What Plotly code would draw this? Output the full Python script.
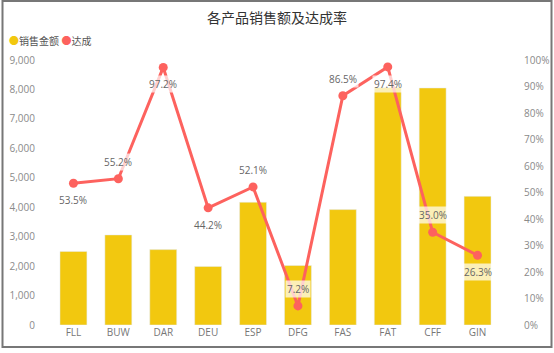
import plotly.graph_objects as go

categories = ["FLL", "BUW", "DAR", "DEU", "ESP", "DFG", "FAS", "FAT", "CFF", "GIN"]
sales = [2500, 3060, 2560, 1990, 4170, 2020, 3920, 8070, 8050, 4370]
rate = [0.535, 0.552, 0.972, 0.442, 0.521, 0.072, 0.865, 0.974, 0.350, 0.263]
label_side = ["below", "above", "below", "below", "above", "above", "above", "below", "above", "below"]

left_ticks = list(range(0, 9001, 1000))
right_ticks = [i / 10 for i in range(11)]

BAR = "#F2C80F"
LINE = "#FD625E"
FONT = "Open Sans, Noto Sans CJK SC, sans-serif"

W, H = 554, 353
L, R, T, B = 51, 54, 60, 28
pw, ph = W - L - R, H - T - B


def px_x(x):
    return (x - L) / pw


def px_y(y):
    return (H - B - y) / ph


fig = go.Figure()
fig.add_trace(go.Bar(x=categories, y=sales, name="销售金额", marker_color=BAR,
                     width=0.6, showlegend=False, yaxis="y"))
fig.add_trace(go.Scatter(x=categories, y=rate, name="达成", mode="lines+markers",
                         line=dict(color=LINE, width=3),
                         marker=dict(color=LINE, size=9),
                         showlegend=False, yaxis="y2"))

annotations = []
for c, v, s in zip(categories, rate, label_side):
    annotations.append(dict(
        x=c, y=v, xref="x", yref="y2", text=f"{v*100:.1f}%", showarrow=False,
        yshift=17 if s == "above" else -17,
        font=dict(family=FONT, size=10, color="#666666"),
        bgcolor="rgba(255,255,255,0.7)", borderpad=1,
    ))

annotations.append(dict(
    x=px_x(277), y=px_y(17), xref="paper", yref="paper", xanchor="center", yanchor="middle",
    text="各产品销售额及达成率", showarrow=False,
    font=dict(family=FONT, size=14, color="#333333"),
))
annotations.append(dict(
    x=px_x(7), y=px_y(41), xref="paper", yref="paper", xanchor="left", yanchor="middle",
    text=f"<span style='color:{BAR}'>●</span>销售金额 <span style='color:{LINE}'>●</span>达成",
    showarrow=False, font=dict(family=FONT, size=10, color="#555555"),
))

fig.update_layout(
    width=W, height=H,
    margin=dict(l=L, r=R, t=T, b=B, autoexpand=False),
    paper_bgcolor="white", plot_bgcolor="white",
    font=dict(family=FONT, size=10, color="#8a8a8a"),
    bargap=0.4,
    xaxis=dict(range=[-0.5, len(categories) - 0.5], showgrid=False, zeroline=False,
               showline=False, ticks="", automargin=False,
               tickfont=dict(size=10, color="#777777")),
    yaxis=dict(range=[0, 9000], tickvals=left_ticks, tickformat=",", showgrid=False,
               zeroline=False, showline=False, ticks="", ticklabelstandoff=15, automargin=False,
               tickfont=dict(size=10, color="#8a8a8a")),
    yaxis2=dict(range=[0, 1], tickvals=right_ticks, tickformat=".0%", overlaying="y",
                side="right", showgrid=False, zeroline=False, showline=False, ticks="",
                ticklabelstandoff=23, automargin=False, tickfont=dict(size=10, color="#8a8a8a")),
    annotations=annotations,
    shapes=[dict(type="rect", xref="paper", yref="paper",
                 x0=px_x(2.5), x1=px_x(551.5), y0=px_y(347), y1=px_y(1),
                 line=dict(color="#777777", width=2))],
)

fig.write_html("out.html", config={"displayModeBar": False})
